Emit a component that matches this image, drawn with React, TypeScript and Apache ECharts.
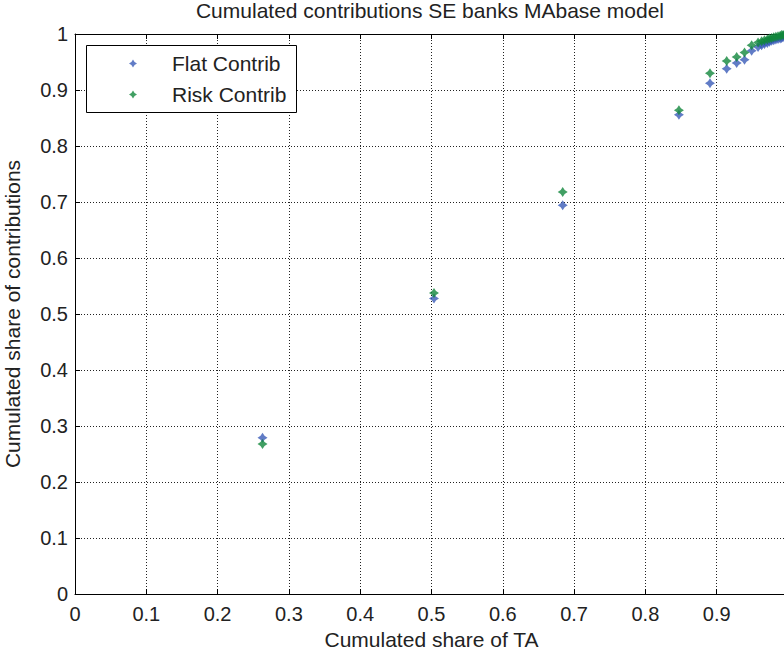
import React, { useEffect, useRef } from "react";
import * as echarts from "echarts";

const shareTA = [0.263, 0.5035, 0.684, 0.847, 0.8906, 0.914, 0.928, 0.939, 0.949, 0.958, 0.963, 0.967, 0.971, 0.974, 0.977, 0.98, 0.983, 0.986, 0.989, 0.991, 0.993, 0.995, 0.997, 0.999, 1.0];
const flatContrib = [0.279, 0.5276, 0.694, 0.856, 0.912, 0.938, 0.948, 0.954, 0.97, 0.977, 0.98, 0.982, 0.984, 0.986, 0.988, 0.989, 0.99, 0.991, 0.992, 0.993, 0.994, 0.996, 0.997, 0.999, 1.0];
const riskContrib = [0.268, 0.5375, 0.718, 0.864, 0.93, 0.952, 0.959, 0.967, 0.98, 0.985, 0.987, 0.989, 0.99, 0.992, 0.993, 0.994, 0.995, 0.996, 0.997, 0.998, 0.998, 0.999, 0.999, 1.0, 1.0];
const seriesNames = ["Flat Contrib", "Risk Contrib"];
const seriesColors = ["#3a5bb8", "#12873c"];

const STAR = "path://M0,-5 L2,-2 L5,0 L2,2 L0,5 L-2,2 L-5,0 L-2,-2 Z";

export default function App() {
  const ref = useRef<HTMLDivElement>(null);
  useEffect(() => {
    if (!ref.current) return;
    const chart = echarts.init(ref.current, null, { renderer: "svg" });
    const font = "'Liberation Sans', Arial, Helvetica, sans-serif";
    const mk = (ys: number[]) => shareTA.map((x, i) => [x, ys[i]]);
    chart.setOption({
      animation: false,
      backgroundColor: "#ffffff",
      textStyle: { fontFamily: font },
      title: {
        text: "Cumulated contributions SE banks MAbase model",
        left: 430,
        textAlign: "center",
        top: 0,
        padding: [0, 0, 0, 0],
        textStyle: { fontSize: 21, fontWeight: "normal", color: "#222", fontFamily: font },
      },
      grid: {
        left: 75,
        top: 34,
        right: -4,
        bottom: 59,
        containLabel: false,
        outerBoundsMode: "none",
      },
      legend: {
        orient: "vertical",
        left: 129,
        top: 53,
        itemWidth: 8,
        itemHeight: 8,
        itemGap: 10,
        padding: 0,
        z: 10,
        data: seriesNames.map((n) => ({ name: n, icon: STAR })),
        textStyle: { fontSize: 21, color: "#222", fontFamily: font, padding: [0, 0, 0, 30] },
      },
      graphic: [
        {
          type: "rect",
          z: 5,
          shape: { x: 86.5, y: 45.5, width: 210, height: 67 },
          style: { fill: "#fff", stroke: "#000", lineWidth: 1 },
        },
      ],
      xAxis: [
        {
          type: "value",
          min: 0,
          max: 1,
          interval: 0.1,
          axisLine: { show: true, onZero: false, lineStyle: { color: "#000", width: 1 } },
          axisTick: { show: true, inside: true, length: 5, lineStyle: { color: "#000" } },
          axisLabel: { fontSize: 20, color: "#222", margin: 10, showMaxLabel: false, fontFamily: font },
          splitLine: { show: true, lineStyle: { color: "#222", type: [1, 2], width: 1 } },
          name: "Cumulated share of TA",
          nameLocation: "middle",
          nameGap: 32,
          nameTextStyle: { fontSize: 21, color: "#222", fontFamily: font },
        },
        {
          type: "value",
          position: "top",
          min: 0,
          max: 1,
          interval: 0.1,
          axisLine: { show: true, onZero: false, lineStyle: { color: "#000", width: 1 } },
          axisTick: { show: true, inside: true, length: 5, lineStyle: { color: "#000" } },
          axisLabel: { show: false },
          splitLine: { show: false },
        },
      ],
      yAxis: [
        {
          type: "value",
          min: 0,
          max: 1,
          interval: 0.1,
          axisLine: { show: true, onZero: false, lineStyle: { color: "#000", width: 1 } },
          axisTick: { show: true, inside: true, length: 5, lineStyle: { color: "#000" } },
          axisLabel: { fontSize: 20, color: "#222", margin: 7, fontFamily: font },
          splitLine: { show: true, lineStyle: { color: "#222", type: [1, 2], width: 1 } },
          name: "Cumulated share of contributions",
          nameLocation: "middle",
          nameGap: 52,
          nameTextStyle: { fontSize: 21, color: "#222", fontFamily: font },
        },
      ],
      series: [
        {
          name: seriesNames[0],
          type: "scatter",
          symbol: STAR,
          symbolSize: 10,
          itemStyle: { color: seriesColors[0] },
          data: mk(flatContrib),
          z: 3,
        },
        {
          name: seriesNames[1],
          type: "scatter",
          symbol: STAR,
          symbolSize: 10,
          itemStyle: { color: seriesColors[1] },
          data: mk(riskContrib),
          z: 4,
        },
      ],
    });
    return () => chart.dispose();
  }, []);
  return (
    <div
      ref={ref}
      style={{ position: "fixed", left: 0, top: 0, width: 784, height: 653 }}
    />
  );
}
